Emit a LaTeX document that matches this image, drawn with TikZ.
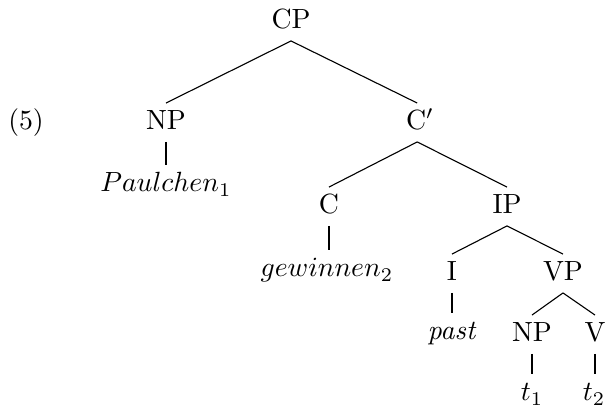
\documentclass[tikz,border=0pt]{standalone}
\begin{document}
\begin{tikzpicture}[x=0.36pt,y=-0.36pt,
  cat/.style={anchor=base, inner xsep=0pt, inner ysep=2.3pt, text height=7.2pt, text depth=1.8pt, font=\normalsize},
  branch/.style={line width=0.4pt},
  stem/.style={line width=0.8pt}]
\useasboundingbox (0,0) rectangle (605,408);
\node[cat] (ex) at (26,130) {(5)};
\node[cat] (cp) at (291,29) {CP};
\node[cat] (np1) at (166,130) {NP};
\node[cat] (cbar) at (420,130) {C$'$};
\node[cat] (paul) at (166,192) {$Paulchen_1$};
\node[cat] (c) at (329,214) {C};
\node[cat] (ip) at (507,214) {IP};
\node[cat] (gew) at (327,277) {$gewinnen_2$};
\node[cat] (i) at (452,281) {I};
\node[cat] (vp) at (563,281) {VP};
\node[cat] (past) at (452,340) {\textit{past}};
\node[cat] (np2) at (532,342) {NP};
\node[cat] (v) at (595,342) {V};
\node[cat] (t1) at (532,401) {$t_1$};
\node[cat] (t2) at (594,401) {$t_2$};
\draw[branch] (cp.south) -- (np1.north);
\draw[branch] (cp.south) -- ([xshift=-1pt]cbar.north);
\draw[stem] (np1.south) -- (np1.south |- paul.north);
\draw[branch] ([xshift=-1pt]cbar.south) -- (c.north);
\draw[branch] ([xshift=-1pt]cbar.south) -- (ip.north);
\draw[stem] (c.south) -- (c.south |- gew.north);
\draw[branch] (ip.south) -- (i.north);
\draw[branch] (ip.south) -- (vp.north);
\draw[stem] (i.south) -- (past.north);
\draw[branch] (vp.south) -- (np2.north);
\draw[branch] (vp.south) -- (v.north);
\draw[stem] (np2.south) -- (np2.south |- t1.north);
\draw[stem] (v.south) -- (v.south |- t2.north);
\end{tikzpicture}
\end{document}
